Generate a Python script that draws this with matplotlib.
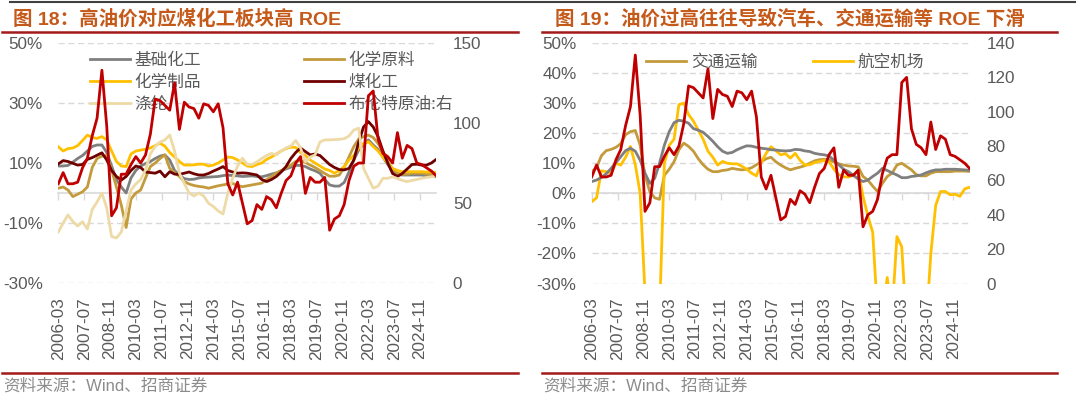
import pandas as pd
import matplotlib.pyplot as plt
from matplotlib.lines import Line2D
from matplotlib.ticker import FuncFormatter

plt.rcParams['font.family'] = ['Liberation Sans', 'Noto Sans CJK SC']

# quarterly data 2006-03 .. 2025-09, x axis in months from 2006-03
dates = pd.date_range('2006-03-01', '2025-09-01', freq='3MS')
months = (dates.year - 2006) * 12 + dates.month - 3

tick_labels = ['2006-03', '2007-07', '2008-11', '2010-03', '2011-07', '2012-11', '2014-03',
               '2015-07', '2016-11', '2018-03', '2019-07', '2020-11', '2022-03', '2023-07',
               '2024-11']
tick_pos = [(int(s[:4]) - 2006) * 12 + int(s[5:]) - 3 for s in tick_labels]

# Brent crude, USD/bbl (right axis in both charts)
brent = [62, 69, 62, 62, 63, 72, 78, 92, 103, 133,
         98, 42, 47, 68, 68, 74, 79, 75, 80, 93,
         115, 114, 111, 108, 125, 96, 113, 110, 109, 103,
         112, 111, 107, 112, 97, 62, 55, 63, 50, 37,
         39, 49, 46, 54, 52, 47, 56, 64, 67, 75,
         79, 56, 66, 63, 63, 66, 33, 40, 42, 49,
         64, 73, 75, 75, 117, 120, 90, 81, 79, 75,
         94, 78, 86, 84, 75, 74, 72, 70, 67]

# ROE, %
basic_chem = [9, 9, 9.2, 10.3, 11.5, 12.5, 14, 15.5, 16, 16,
              13.5, 9, 4.5, 2, 0, 5, 7.5, 9, 9.8, 10.5,
              11.5, 12.3, 12.7, 11, 7.5, 6, 4.8, 4.5, 4.6, 5,
              5.2, 5.3, 5.4, 5.5, 5.8, 6, 5.8, 5.7, 5.5, 5.6,
              5.7, 5.5, 5.4, 5.8, 6.3, 6.7, 7.4, 8, 8.6, 9.2,
              9.2, 8.8, 8, 7.4, 6.6, 4.5, 2.7, 2.3, 2.3, 3.5,
              7, 11, 14.3, 16, 17.7, 16, 14.5, 12, 9.5, 7.5,
              6.3, 6, 6, 6, 6, 6, 5.6, 5.5, 5.4]
chem_raw = [1.6, 2, 1, -1.2, -0.4, 0.4, 2, 8.5, 11.5, 12.3,
            12.5, 7.7, 2, -4, -11.5, -2, 0, 1, 5, 8.8,
            10, 11.5, 12.7, 8.2, 6.8, 5.5, 3.8, 3, 2.5, 2.2,
            2, 1.6, 2, 2.4, 2.7, 3, 3.2, 2.5, 2.1, 2.4,
            2.7, 3, 3.3, 4.5, 5.5, 6.6, 7.5, 8.3, 9.3, 10.5,
            10.8, 10.2, 9.3, 8.5, 7.5, 6.5, 5.6, 5.6, 6, 8.5,
            12, 15.5, 18, 18.8, 19.3, 18.5, 16.5, 13.8, 10.5, 8,
            6.6, 6.2, 6.3, 6.6, 6.6, 6.6, 6.3, 6.2, 6]
chem_prod = [15.4, 14, 14.8, 15, 15.8, 17.5, 19.3, 18.5, 18.2, 18.8,
             17.7, 14, 10.5, 9, 8.8, 13, 14, 14.3, 14.6, 15,
             15.8, 16.6, 15.6, 13.5, 12, 10.5, 9.3, 9.3, 9.4, 9.6,
             9.6, 9, 9.3, 10, 11, 12, 11.8, 11, 10, 9,
             8.8, 9.5, 10, 11.2, 12, 13, 14, 14.8, 15.3, 15.2,
             13.5, 12.5, 11, 10, 9, 8, 7.5, 6.6, 7.5, 8.8,
             11, 12.5, 15, 16.5, 17.1, 15.5, 14, 12, 10, 8.2,
             7.5, 7.1, 7.1, 7.1, 7.1, 7.1, 7, 7, 6.8]
coal_chem = [9.7, 10.8, 10.5, 9.9, 9.3, 9.5, 11.2, 11.8, 12.6, 13.4,
             11, 7.5, 5.5, 4.3, 5.5, 7.5, 9, 8.5, 7, 6.8,
             6.6, 7.3, 5.4, 7.1, 6.3, 6.2, 6.6, 7, 6.4, 6,
             6, 6.5, 7.3, 8, 8.8, 7.5, 7, 6.6, 6.7, 6.6,
             6.3, 6, 4.5, 3.8, 4.5, 5.5, 7, 8.8, 11.5, 13.5,
             15, 13.8, 12.7, 13, 12.5, 11, 9.5, 8.5, 7.8, 7.7,
             8.2, 11, 17, 22, 23.8, 22, 18.8, 14, 10, 6.5,
             5.5, 6.5, 8, 9.5, 9.6, 9.3, 9.3, 10, 11.2]
polyester = [-13, -10, -7.3, -9.5, -11, -9.6, -12, -5.5, -3, 0,
             -5, -14.5, -15, -13, -6, 1, 3, 4.5, 7.7, 13,
             15.5, 17, 17.7, 19.3, 14, 6.6, 3.2, 0, -1, 0,
             -1, -3.4, -4.5, -6, -7, 0, 4.9, 9, 11.6, 9.5,
             9.5, 10.4, 11.5, 12.5, 13.2, 12.7, 14, 15, 15.7, 17.5,
             15, 10.4, 12, 12.7, 17, 17.7, 17.7, 17.8, 17.9, 18.1,
             19, 21, 21.6, 8.2, 4.9, 1.6, 2.3, 4.9, 4.9, 5.4,
             4.8, 4.2, 3.8, 4.2, 4.5, 4.9, 5.2, 5.4, 5.6]

auto = [3.9, 4.4, 5.3, 6.5, 8.3, 10.2, 12.2, 14.2, 15, 14,
        11, 6.7, 3.3, 5, 10, 16, 20.5, 23.5, 24.3, 24,
        23.3, 21.5, 21, 20.3, 18.9, 17.3, 15.5, 14, 13.3, 13.6,
        14.5, 15.2, 15.8, 15.7, 15.3, 15, 14.8, 14.5, 14.4, 14.2,
        14.1, 14.2, 14.6, 14.5, 14.1, 13.9, 13.3, 13, 12.8, 12.4,
        11, 9.5, 8, 7.2, 6, 4.8, 3.9, 4.4, 5.6, 6.7,
        8.3, 7.6, 6.8, 6.1, 5.2, 5.2, 5.6, 5.8, 6.1, 6.8,
        7.4, 7.8, 7.8, 8, 8, 8, 7.9, 7.8, 7.6]
transport = [7.2, 8.5, 12.5, 14.2, 14.6, 15.3, 16.5, 19.5, 20.5, 20.9,
             16, 6, 0.5, -1.5, -2, 6, 8, 10.5, 14.5, 16.7,
             15.6, 14, 11.5, 9.5, 8, 7.2, 7.2, 7.6, 7.8, 8.3,
             8, 7.8, 8, 8.5, 9.5, 10.5, 11.5, 12, 10.5, 9.4,
             8.5, 7.8, 8.3, 8.7, 9.2, 10, 10.8, 11.2, 11.3, 11.1,
             10.4, 9.8, 9.4, 9.1, 9, 8.8, 5.6, 4.4, 2.4, 0.6,
             3.3, 5.6, 6.7, 9.4, 10, 8.9, 7.8, 6.2, 5.8, 5.8,
             6.7, 7.2, 7.2, 7.2, 7.2, 7.4, 7.4, 7.4, 7.3]
airline = [-2.8, -1.5, 7.5, 7.2, 6.7, 10, 9.4, 12, 15.6, 9.5,
           0, -33, -60, -55, -40, 10, 16, 18, 29.5, 30,
           26.2, 24, 21, 18, 14, 12, 9.4, 10.6, 10, 9.8,
           9.8, 9, 8, 6.7, 5.8, 10.3, 13.3, 15.5, 14.2, 12.8,
           13.2, 11.7, 13.3, 11, 9.4, 9.5, 10.2, 10.6, 10.9, 10.5,
           8, 6.2, 5.5, 5.4, 6, 7.5, -1, -7.5, -13, -40,
           -40, -28, -40, -14.4, -17.8, -45, -60, -55, -50, -45,
           -20, -4, 0.6, 0.6, -0.5, -0.3, -1, 1.5, 2]

GRID = '#D9D9D9'
TXT = '#595959'
FS = 12.3
LW = 2.0


def style_axes(ax, ax2, yticks, y2ticks, y2lim):
    ax.set_xlim(0, months[-1])
    ax.set_ylim(-30, 50)
    ax.set_yticks(yticks)
    ax.yaxis.set_major_formatter(FuncFormatter(lambda v, p: f'{v:.0f}%'))
    ax.grid(axis='y', color=GRID, linestyle=(0, (4.5, 2.5)), linewidth=1)
    ax.set_axisbelow(True)
    for s in ['left', 'right', 'top']:
        ax.spines[s].set_visible(False)
    ax.spines['bottom'].set_position(('data', 0))
    ax.spines['bottom'].set_color(GRID)
    ax.spines['bottom'].set_linewidth(1.2)
    ax.spines['bottom'].set_zorder(1)
    ax.set_xticks(tick_pos, tick_labels, rotation=90)
    ax.tick_params(axis='x', length=5, width=1, color=GRID, pad=70,
                   labelsize=FS, labelcolor=TXT)
    ax.tick_params(axis='y', length=0, pad=11, labelsize=FS, labelcolor=TXT)
    ax2.set_ylim(*y2lim)
    ax2.set_yticks(y2ticks)
    ax2.tick_params(axis='y', length=0, pad=12, labelsize=FS, labelcolor=TXT)
    for s in ax2.spines.values():
        s.set_visible(False)


fig = plt.figure(figsize=(10.8, 3.96), dpi=100)

# left chart: chemicals
ax = fig.add_axes([58.3 / 1080, 113 / 396, 377.9 / 1080, 240 / 396])
ax2 = ax.twinx()
l1, = ax.plot(months, basic_chem, color='#7F7F7F', lw=LW, label='基础化工')
l2, = ax.plot(months, chem_raw, color='#C39B3C', lw=LW, label='化学原料')
l3, = ax.plot(months, chem_prod, color='#FFC000', lw=LW, label='化学制品')
l4, = ax.plot(months, coal_chem, color='#700000', lw=LW, label='煤化工')
l5, = ax.plot(months, polyester, color='#EDDAA6', lw=LW, label='涤纶')
l6, = ax2.plot(months, brent, color='#C00000', lw=LW, label='布伦特原油:右')
style_axes(ax, ax2, [-30, -10, 10, 30, 50], [0, 50, 100, 150], (0, 150))

hs = [l1, l3, l5, l2, l4, l6]
leg = ax.legend(hs, [h.get_label() for h in hs], ncol=2, loc='upper left',
                bbox_to_anchor=(0.083, 0.962), frameon=False,
                prop={'size': 12, 'family': ['Noto Sans CJK SC']},
                handlelength=2.4, handletextpad=0.3, columnspacing=6.15,
                labelspacing=0.3, borderaxespad=0, borderpad=0)
for t in leg.get_texts():
    t.set_color(TXT)
leg.set_zorder(1.5)

# right chart: transport
bx = fig.add_axes([591.7 / 1080, 112.5 / 396, 377.9 / 1080, 240.5 / 396])
bx2 = bx.twinx()
r1, = bx.plot(months, transport, color='#C39B3C', lw=LW, label='交通运输')
r2, = bx.plot(months, airline, color='#FFC000', lw=LW, label='航空机场')
bx.plot(months, auto, color='#7F7F7F', lw=LW)
bx2.plot(months, brent, color='#C00000', lw=LW)
style_axes(bx, bx2, list(range(-30, 51, 10)), list(range(0, 141, 20)), (0, 140))

leg2 = bx.legend([r1, r2], ['交通运输', '航空机场'], ncol=2, loc='upper left',
                 bbox_to_anchor=(0.144, 0.957), frameon=False,
                 prop={'size': 12, 'family': ['Noto Sans CJK SC']},
                 handlelength=2.4, handletextpad=0.3, columnspacing=3.3,
                 borderaxespad=0, borderpad=0)
for t in leg2.get_texts():
    t.set_color(TXT)
leg2.set_zorder(1.5)

# titles, rules and source notes
fig.add_artist(Line2D([10 / 1080, 1075 / 1080], [1 - 1.7 / 396] * 2,
                      transform=fig.transFigure, color='#404040', lw=1.5))
for x0, x1 in [(2, 518), (542, 1057)]:
    for y in [31.7, 373]:
        fig.add_artist(Line2D([x0 / 1080, x1 / 1080], [1 - y / 396] * 2,
                              transform=fig.transFigure, color='#A31A1A', lw=1.8))

title_kw = dict(fontsize=14, fontweight='bold', color='#C5591A', va='center')
fig.text(13 / 1080, 1 - 19 / 396, '图 18：高油价对应煤化工板块高 ROE', **title_kw)
fig.text(555 / 1080, 1 - 19 / 396, '图 19：油价过高往往导致汽车、交通运输等 ROE 下滑', **title_kw)

src_kw = dict(fontsize=12, color='#8C8C8C', va='center')
fig.text(3 / 1080, 1 - 386 / 396, '资料来源：Wind、招商证券', **src_kw)
fig.text(543 / 1080, 1 - 386 / 396, '资料来源：Wind、招商证券', **src_kw)

fig.savefig('out.png', dpi=100)
